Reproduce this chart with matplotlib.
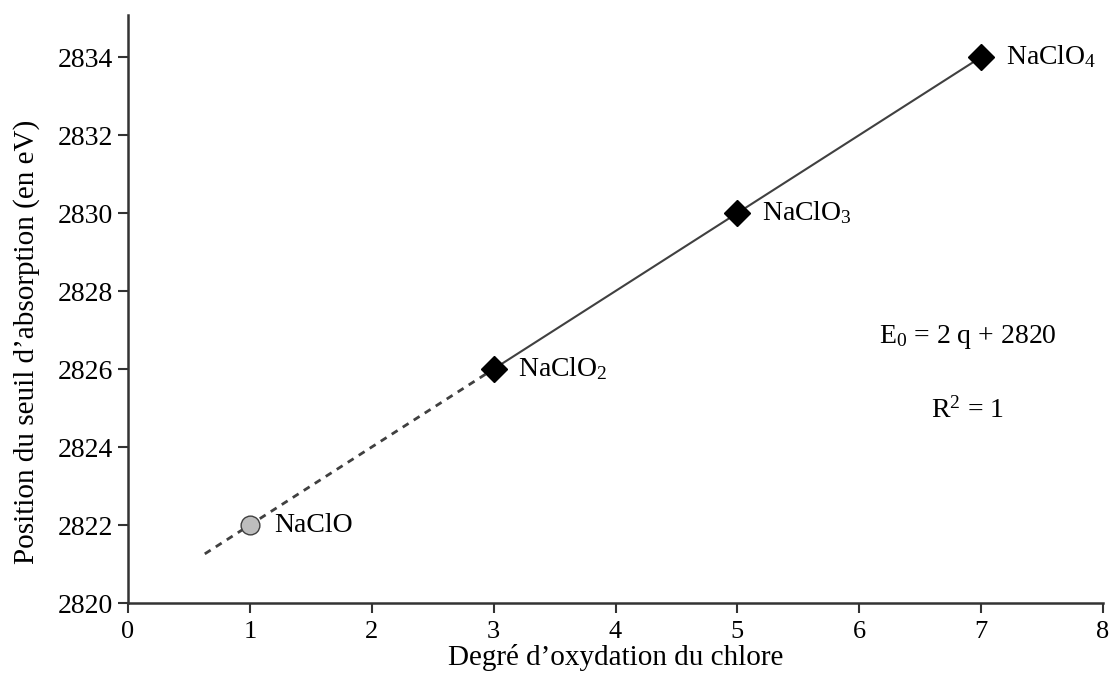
import matplotlib
matplotlib.use("Agg")
import matplotlib.pyplot as plt
import numpy as np

plt.rcParams['font.family'] = ['Liberation Serif', 'DejaVu Serif']
plt.rcParams['mathtext.fontset'] = 'custom'
plt.rcParams['mathtext.rm'] = 'Liberation Serif'
plt.rcParams['mathtext.it'] = 'Liberation Serif'

# degré d'oxydation et position du seuil (eV)
q_ref = [3, 5, 7]
E_ref = [2826, 2830, 2834]
q_naclo = [1]
E_naclo = [2822]
noms = ['NaClO', 'NaClO$_2$', 'NaClO$_3$', 'NaClO$_4$']
q_noms = [1, 3, 5, 7]
E_noms = [2822, 2826, 2830, 2834]

pente, origine = 2, 2820
q_fit = [3, 7]
q_ext = [0.63, 3]

fig = plt.figure(figsize=(11.12, 6.77), dpi=100)
ax = fig.add_axes([0.1151, 0.1093, 0.8769, 0.8687])

ax.plot(q_fit, [pente*q + origine for q in q_fit], '-', color='#404040', lw=1.5, zorder=2)
ax.plot(q_ext, [pente*q + origine for q in q_ext], '--', color='#404040', lw=2, dashes=(2.5, 2.2), zorder=2)
ax.plot(q_ref, E_ref, 'D', color='black', ms=13, zorder=3)
ax.plot(q_naclo, E_naclo, 'o', mfc='#bdbdbd', mec='#404040', ms=13.5, mew=1, zorder=3)

for n, q, E in zip(noms, q_noms, E_noms):
    ax.text(q + 0.2, E, n, fontsize=20, va='center', ha='left')

ax.text(6.89, 2826.82, 'E$_0$ = 2 q + 2820', fontsize=20, ha='center', va='center')
ax.text(6.89, 2824.95, 'R$^2$ = 1', fontsize=20, ha='center', va='center')

ax.set_xlim(0, 8)
ax.set_ylim(2820, 2835.08)
ax.set_xticks(range(0, 9))
ax.set_yticks(range(2820, 2835, 2))
for s in ['top', 'right']:
    ax.spines[s].set_visible(False)
for s in ['left', 'bottom']:
    ax.spines[s].set_linewidth(1.8)
    ax.spines[s].set_color('#333333')
ax.tick_params(direction='out', length=7, width=1.5, labelsize=20, color='#333333', pad=4)
ax.tick_params(axis='x', labelsize=19, pad=6)
ax.set_xlabel("Degré d’oxydation du chlore", fontsize=21, labelpad=1)
ax.set_ylabel("Position du seuil d’absorption (en eV)", fontsize=21)
ax.yaxis.set_label_coords(-0.09, 0.444)

fig.savefig('out.png', dpi=100)
